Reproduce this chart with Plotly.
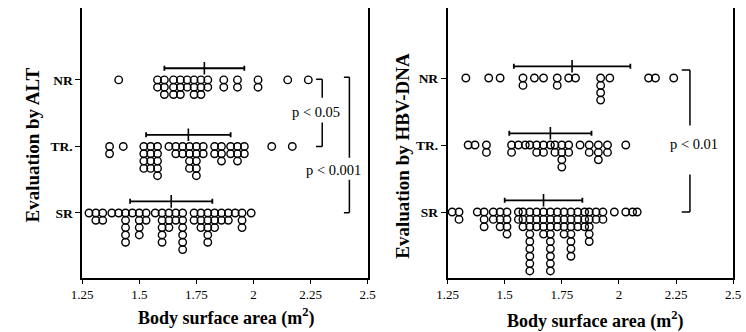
import plotly.graph_objects as go

# ---------------- data (body surface area, m^2; n = patients at that value) ----------------
categories = ["NR", "TR.", "SR"]
row_pos = [3, 2, 1]

alt_nr_bsa = [1.41, 1.58, 1.61, 1.65, 1.68, 1.71, 1.74, 1.77, 1.80, 1.87, 1.93, 2.02, 2.15, 2.24]
alt_nr_n = [1, 2, 3, 3, 3, 2, 3, 3, 2, 2, 2, 2, 1, 1]
alt_tr_bsa = [1.37, 1.43, 1.52, 1.55, 1.58, 1.63, 1.66, 1.69, 1.72, 1.75, 1.78, 1.83, 1.86, 1.90,
              1.93, 1.96, 2.08, 2.17]
alt_tr_n = [2, 1, 4, 4, 5, 1, 2, 2, 4, 5, 2, 2, 3, 2, 3, 2, 1, 1]
alt_sr_bsa = [1.28, 1.31, 1.34, 1.38, 1.41, 1.44, 1.47, 1.50, 1.53, 1.57, 1.60, 1.63, 1.66, 1.69,
              1.74, 1.77, 1.80, 1.83, 1.86, 1.89, 1.92, 1.95, 1.99]
alt_sr_n = [1, 2, 2, 1, 1, 5, 1, 4, 2, 1, 5, 3, 2, 6, 2, 3, 5, 3, 2, 2, 1, 3, 1]

hbv_nr_bsa = [1.33, 1.43, 1.48, 1.58, 1.63, 1.67, 1.73, 1.78, 1.81, 1.92, 1.96, 2.13, 2.16, 2.24]
hbv_nr_n = [1, 1, 1, 2, 1, 1, 2, 1, 1, 4, 1, 1, 1, 1]
hbv_tr_bsa = [1.34, 1.37, 1.42, 1.53, 1.56, 1.59, 1.61, 1.64, 1.67, 1.70, 1.72, 1.75, 1.78, 1.83,
              1.87, 1.91, 1.95, 2.03]
hbv_tr_n = [1, 1, 2, 2, 1, 1, 1, 2, 2, 1, 2, 4, 2, 1, 2, 3, 2, 1]
hbv_sr_bsa = [1.27, 1.30, 1.38, 1.41, 1.45, 1.48, 1.51, 1.56, 1.58, 1.61, 1.64, 1.67, 1.70, 1.73,
              1.76, 1.79, 1.82, 1.85, 1.87, 1.90, 1.93, 1.98, 2.03, 2.06, 2.08]
hbv_sr_n = [1, 2, 1, 3, 2, 3, 4, 2, 3, 9, 3, 4, 9, 3, 4, 7, 3, 3, 5, 2, 2, 1, 1, 1, 1]

# mean +/- SD per group (NR, TR., SR)
alt_mean = [1.785, 1.715, 1.64]
alt_sd = [0.175, 0.185, 0.18]
hbv_mean = [1.795, 1.70, 1.67]
hbv_sd = [0.255, 0.18, 0.17]

x_ticks = [1.25, 1.5, 1.75, 2.0, 2.25, 2.5]
x_ticktext = ["1.25", "1.5", "1.75", "2", "2.25", "2.5"]

# significance brackets (annotation layout)
alt_brackets = [
    dict(top=3.01, bottom=2.0, xs=2.274, xl=2.301, gap=(2.36, 2.73), label="p < 0.05", lx=2.272, ly=2.52),
    dict(top=3.04, bottom=1.005, xs=2.396, xl=2.420, gap=(1.50, 1.83), label="p < 0.001", lx=2.351, ly=1.65),
]
hbv_brackets = [
    dict(top=3.12, bottom=1.0, xs=2.275, xl=2.311, gap=(1.56, 2.29), label="p < 0.01", lx=2.33, ly=2.01),
]

STEP = 0.11      # vertical stacking step of a dot (row units)
BAR_OFF = 0.175  # mean bar above the row
SERIF = "Liberation Serif, Times New Roman, serif"

fig = go.Figure()


def stack(bsa, n, row):
    xs, ys = [], []
    for v, c in zip(bsa, n):
        for k in range(c):
            xs.append(v)
            ys.append(row - k * STEP)
    return xs, ys


def add_panel(xa, ya, groups, means, sds, brackets):
    for (bsa, n), row in zip(groups, row_pos):
        xs, ys = stack(bsa, n, row)
        fig.add_trace(go.Scatter(
            x=xs, y=ys, mode="markers", xaxis=xa, yaxis=ya, showlegend=False,
            marker=dict(symbol="circle-open", size=7.5, color="black", line=dict(width=1.4, color="black")),
        ))
    fig.add_trace(go.Scatter(
        x=means, y=[r + BAR_OFF for r in row_pos], mode="markers", xaxis=xa, yaxis=ya, showlegend=False,
        marker=dict(symbol="line-ns", size=9, color="black", line=dict(width=1.6, color="black")),
        error_x=dict(type="data", array=sds, symmetric=True, width=2.5, thickness=1.8, color="black"),
    ))
    for b in brackets:
        line = dict(color="black", width=1.5)
        segs = [
            (b["xs"], b["top"], b["xl"], b["top"]),
            (b["xs"], b["bottom"], b["xl"], b["bottom"]),
            (b["xl"], b["top"], b["xl"], b["gap"][1]),
            (b["xl"], b["gap"][0], b["xl"], b["bottom"]),
        ]
        for x0, y0, x1, y1 in segs:
            fig.add_shape(type="line", xref=xa, yref=ya, x0=x0, y0=y0, x1=x1, y1=y1, line=line)
        fig.add_annotation(x=b["lx"], y=b["ly"], xref=xa, yref=ya, text=b["label"], showarrow=False,
                           font=dict(family=SERIF, size=14.5, color="black"))


add_panel("x", "y", [(alt_nr_bsa, alt_nr_n), (alt_tr_bsa, alt_tr_n), (alt_sr_bsa, alt_sr_n)],
          alt_mean, alt_sd, alt_brackets)
add_panel("x2", "y2", [(hbv_nr_bsa, hbv_nr_n), (hbv_tr_bsa, hbv_tr_n), (hbv_sr_bsa, hbv_sr_n)],
          hbv_mean, hbv_sd, hbv_brackets)

W, H = 746, 332
xcommon = dict(range=[1.25, 2.5], tickvals=x_ticks, ticktext=x_ticktext, showline=True, linecolor="black",
               linewidth=1.5, ticks="outside", ticklen=4, tickwidth=1.2, tickcolor="black", showgrid=False,
               zeroline=False, tickfont=dict(family=SERIF, size=13, color="black"))
ycommon = dict(tickvals=row_pos, ticktext=["<b>%s</b>" % c for c in categories], showline=True,
               mirror=True, linecolor="black", linewidth=1.5, ticks="outside", ticklen=5, tickwidth=1.2,
               tickcolor="black", showgrid=False, zeroline=False,
               tickfont=dict(family=SERIF, size=13.5, color="black"))

fig.update_layout(
    width=W, height=H, margin=dict(l=0, r=0, t=0, b=0),
    paper_bgcolor="white", plot_bgcolor="white",
    xaxis=dict(domain=[73 / W, 366 / W], anchor="y", **xcommon),
    yaxis=dict(domain=[1 - 278 / H, 1 - 8 / H], anchor="x", range=[0.023, 4.08], **ycommon),
    xaxis2=dict(domain=[448 / W, 741 / W], anchor="y2", **xcommon),
    yaxis2=dict(domain=[1 - 278 / H, 1 - 8 / H], anchor="x2", range=[0.015, 4.045], **ycommon),
)

titles = [
    ("<b>Body surface area (m<sup>2</sup>)</b>", 221 / W, 1 - 317 / H, 0, 18),
    ("<b>Body surface area (m<sup>2</sup>)</b>", 599 / W, 1 - 320 / H, 0, 18),
    ("<b>Evaluation by ALT</b>", 22 / W, 1 - 145 / H, -90, 19),
    ("<b>Evaluation by HBV-DNA</b>", 401 / W, 1 - 156 / H, -90, 19),
]
for text, x, y, ang, fs in titles:
    fig.add_annotation(x=x, y=y, xref="paper", yref="paper", text=text, showarrow=False, textangle=ang,
                       xanchor="center", yanchor="middle", font=dict(family=SERIF, size=fs, color="black"))

fig.write_html("out.html")
